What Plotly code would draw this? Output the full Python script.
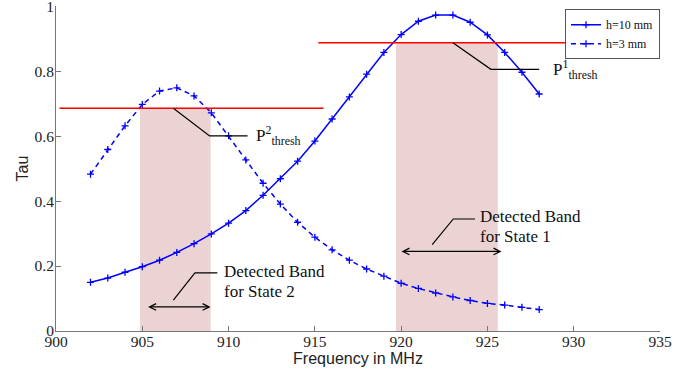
import plotly.graph_objects as go

# ---- data ----
freq_mhz = list(range(902, 929))
tau_h10 = [0.150, 0.163, 0.181, 0.198, 0.218, 0.242, 0.269, 0.299, 0.332, 0.371,
           0.418, 0.469, 0.523, 0.585, 0.653, 0.721, 0.791, 0.858, 0.913, 0.954,
           0.973, 0.973, 0.951, 0.912, 0.858, 0.797, 0.730]
tau_h3 = [0.483, 0.559, 0.632, 0.698, 0.739, 0.749, 0.724, 0.672, 0.601, 0.527,
          0.455, 0.391, 0.335, 0.289, 0.250, 0.218, 0.191, 0.169, 0.147, 0.131,
          0.117, 0.105, 0.094, 0.085, 0.080, 0.073, 0.066]
series_names = ["h=10 mm", "h=3 mm"]

thresh_p1 = 0.888
thresh_p1_span = [915.2, 930.5]
thresh_p2 = 0.686
thresh_p2_span = [900.2, 915.5]
band_state1 = [919.7, 925.6]
band_state2 = [904.87, 908.96]
arrow_state1 = [919.93, 925.82, 0.245]
arrow_state2 = [905.25, 908.96, 0.074]

x_ticks = [900, 905, 910, 915, 920, 925, 930, 935]
y_ticks = [0, 0.2, 0.4, 0.6, 0.8, 1]
y_tick_text = ["0", "0.2", "0.4", "0.6", "0.8", "1"]

SERIF = "Liberation Serif, Times New Roman, serif"
SANS = "Liberation Sans, Arial, sans-serif"
BLUE = "#0000ff"

fig = go.Figure()
fig.add_trace(go.Scatter(
    x=freq_mhz, y=tau_h10, mode="lines+markers", name=series_names[0],
    line=dict(color=BLUE, width=1.5),
    marker=dict(symbol="cross-thin", size=5, color=BLUE, line=dict(width=1.3, color=BLUE))))
fig.add_trace(go.Scatter(
    x=freq_mhz, y=tau_h3, mode="lines+markers", name=series_names[1],
    line=dict(color=BLUE, width=1.5, dash="5px,4px"),
    marker=dict(symbol="cross-thin", size=5, color=BLUE, line=dict(width=1.3, color=BLUE))))

shapes = []
# detected bands (shaded)
shapes.append(dict(type="rect", xref="x", yref="y", x0=band_state2[0], x1=band_state2[1],
                   y0=0, y1=thresh_p2, fillcolor="#ebd3d3", line=dict(width=0), layer="below"))
shapes.append(dict(type="rect", xref="x", yref="y", x0=band_state1[0], x1=band_state1[1],
                   y0=0, y1=thresh_p1, fillcolor="#ebd3d3", line=dict(width=0), layer="below"))
# threshold lines
shapes.append(dict(type="line", xref="x", yref="y", x0=thresh_p2_span[0], x1=thresh_p2_span[1],
                   y0=thresh_p2, y1=thresh_p2, line=dict(color="#ff0000", width=1.5)))
shapes.append(dict(type="line", xref="x", yref="y", x0=thresh_p1_span[0], x1=thresh_p1_span[1],
                   y0=thresh_p1, y1=thresh_p1, line=dict(color="#ff0000", width=1.5)))
# leader lines
leaders = [
    [(906.8, thresh_p2), (908.9, 0.601), (911.1, 0.601)],
    [(923.0, thresh_p1), (925.2, 0.806), (928.0, 0.806)],
    [(906.8, 0.095), (908.05, 0.179), (909.35, 0.179)],
    [(921.8, 0.266), (923.02, 0.345), (924.28, 0.345)],
]
for pts in leaders:
    path = "M " + " L ".join(f"{px},{py}" for px, py in pts)
    shapes.append(dict(type="path", xref="x", yref="y", path=path,
                       line=dict(color="black", width=1.2)))

TXT = dict(family=SERIF, size=17, color="#111")
annotations = []
for a in (arrow_state2, arrow_state1):
    annotations.append(dict(x=a[1], y=a[2], ax=a[0], ay=a[2], xref="x", yref="y",
                            axref="x", ayref="y", text="", showarrow=True,
                            arrowhead=5, arrowside="end+start", arrowsize=1,
                            arrowwidth=1.3, arrowcolor="black", standoff=0, startstandoff=0))
labels = [
    (911.5, 0.601, "P<sup>2</sup><sub>thresh</sub>"),
    (928.7, 0.806, "P<sup>1</sup><sub>thresh</sub>"),
    (909.6, 0.184, "Detected Band"),
    (909.6, 0.122, "for State 2"),
    (924.45, 0.353, "Detected Band"),
    (924.45, 0.291, "for State 1"),
]
for lx, ly, lt in labels:
    annotations.append(dict(x=lx, y=ly, xref="x", yref="y", xanchor="left", yanchor="middle",
                            text=lt, showarrow=False, font=TXT))

fig.update_layout(
    width=694, height=370,
    margin=dict(l=56, r=34, t=6, b=39),
    paper_bgcolor="white", plot_bgcolor="white",
    shapes=shapes, annotations=annotations,
    showlegend=True,
    legend=dict(x=1, y=0.99, xanchor="right", yanchor="top",
                bgcolor="white", bordercolor="#555", borderwidth=1,
                font=dict(family=SERIF, size=12, color="#111"),
                itemwidth=30, tracegroupgap=0),
    xaxis=dict(range=[900, 935], tickvals=x_ticks, ticks="inside", ticklen=5,
               tickcolor="#777", showline=True, linecolor="#777", linewidth=1,
               showgrid=False, zeroline=False, ticklabelstandoff=-4,
               ticklabeloverflow="allow", automargin=False,
               tickfont=dict(family=SERIF, size=15.5, color="#222"),
               title=dict(text="Frequency in MHz", font=dict(family=SANS, size=16, color="#222"),
                          standoff=0)),
    yaxis=dict(range=[0, 1.001], tickvals=y_ticks, ticktext=y_tick_text, ticks="inside", ticklen=5,
               tickcolor="#777", showline=True, linecolor="#777", linewidth=1,
               showgrid=False, zeroline=False, ticklabelstandoff=-2,
               ticklabeloverflow="allow", automargin=False,
               tickfont=dict(family=SERIF, size=15.5, color="#222"),
               title=dict(text="Tau", font=dict(family=SANS, size=16, color="#222"),
                          standoff=1)),
)

fig.write_html("out.html", config={"displayModeBar": False},
               post_script="document.body.style.margin='0';")
